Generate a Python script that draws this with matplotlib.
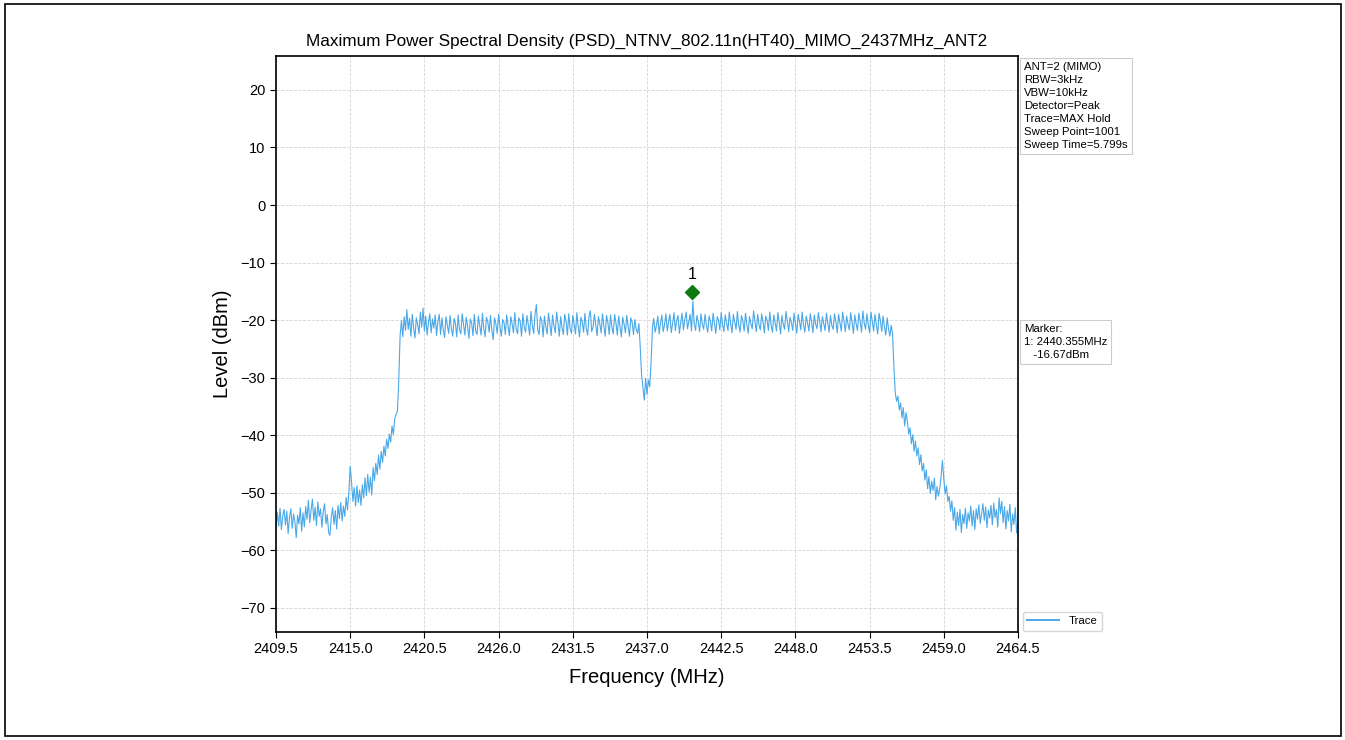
import numpy as np
import matplotlib
matplotlib.use("Agg")
import matplotlib.pyplot as plt
from matplotlib.patches import Rectangle

plt.rcParams['font.family'] = ['Liberation Sans', 'DejaVu Sans']

# trace, 0.1 MHz steps from 2409.5 to 2464.5 MHz
floor_left = [
    -56.0, -53.4, -55.8, -52.7, -56.4, -54.0, -52.9, -55.6, -53.2, -57.1,
    -54.3, -52.8, -56.2, -53.7, -55.1, -57.8, -53.9, -55.4, -52.6, -56.7,
    -53.5, -55.9, -52.4, -54.6, -51.3, -55.2, -53.0, -51.1, -54.8, -52.5,
    -55.7, -51.6, -54.1, -52.8, -56.0, -53.3, -51.9, -55.4, -53.8, -56.9,
    -57.4, -54.2, -52.6, -55.5, -53.1, -56.3, -52.2, -54.5, -51.7, -54.9,
]
rise_left = [
    -52.3, -54.1, -50.8, -53.0, -49.9, -45.4, -48.2, -51.5, -49.1, -52.3,
    -48.8, -51.7, -49.5, -52.2, -48.6, -50.9, -47.4, -50.5, -46.8, -49.9,
    -47.3, -50.4, -45.6, -47.9, -44.9, -46.8, -43.5, -45.9, -42.8, -44.7,
    -41.9, -43.6, -40.7, -42.3, -39.8, -41.2, -38.4, -39.9, -37.1, -36.4,
    -35.8, -30.5, -22.6, -20.1, -22.9, -19.4, -21.8, -18.2, -21.6, -19.7,
]
band_left = [
    -22.8, -19.0, -21.3, -23.1, -19.6, -20.7, -22.4, -18.6, -21.2, -17.9,
    -21.9, -19.3, -22.6, -20.4, -18.9, -22.2, -19.8, -21.4, -19.1, -22.7,
    -20.2, -19.0, -22.5, -19.6, -21.7, -23.0, -19.4, -20.9, -22.3, -19.2,
    -21.5, -22.8, -19.7, -20.6, -22.9, -19.1, -21.6, -22.4, -18.9, -20.8,
    -22.6, -19.5, -21.1, -23.2, -19.8, -20.5, -22.7, -19.0, -21.9, -22.5,
    -19.3, -20.9, -22.6, -18.8, -21.4, -22.9, -19.5, -20.3, -22.1, -19.2,
    -21.8, -23.4, -19.6, -20.7, -22.3, -19.0, -21.2, -22.8, -19.9, -20.4,
    -22.5, -19.1, -21.0, -22.7, -19.4, -20.6, -22.2, -18.7, -21.5, -22.4,
    -19.6, -20.2, -22.8, -18.9, -21.3, -22.1, -19.2, -20.8, -22.6, -18.5,
    -20.9, -22.3, -19.0, -17.3, -21.7, -22.5, -19.4, -20.1, -22.9, -19.3,
    -21.2, -22.4, -18.8, -20.6, -22.7, -19.1, -21.0, -22.2, -18.6, -20.5,
    -22.8, -19.4, -21.3, -22.5, -19.0, -20.2, -22.6, -18.9, -21.5, -22.3,
    -19.2, -20.7, -22.4, -18.7, -21.1, -22.9, -19.5, -20.3, -22.1, -18.8,
    -21.4, -22.6, -19.3, -18.4, -22.0, -21.2, -19.0, -20.8, -22.7, -19.4,
    -20.6, -22.2, -18.9, -21.0, -22.8, -19.2, -20.4, -22.5, -19.1, -21.3,
    -22.4, -19.0, -20.5, -22.6, -19.3, -21.1, -22.9, -19.5, -20.7, -22.2,
    -19.2, -21.0, -22.8, -19.6, -20.4, -22.5, -19.9, -21.6, -22.3, -20.6,
]
notch = [
    -24.8, -29.6, -31.8, -33.9, -30.1, -32.9, -30.4, -31.6, -27.5, -21.4,
]
band_right = [
    -19.7, -22.1, -21.0, -19.3, -22.4, -20.5, -19.1, -22.0, -20.8, -18.9,
    -21.9, -20.3, -19.0, -22.2, -20.6, -18.7, -21.8, -20.1, -19.2, -22.3,
    -20.4, -18.8, -21.7, -19.9, -18.6, -21.5, -20.2, -19.0, -21.9, -16.7,
    -20.6, -21.8, -19.2, -20.3, -22.0, -18.9, -20.7, -21.6, -19.0, -20.9,
    -22.1, -19.3, -20.2, -21.9, -18.8, -20.5, -22.3, -19.4, -20.0, -21.7,
    -18.7, -20.8, -22.0, -19.1, -20.4, -21.8, -18.6, -20.6, -22.2, -19.0,
    -20.3, -21.6, -18.5, -20.9, -22.1, -19.2, -20.1, -21.9, -18.8, -20.7,
    -22.3, -19.4, -20.6, -21.5, -18.4, -20.2, -22.0, -19.0, -20.8, -21.7,
    -18.9, -20.4, -22.2, -19.3, -20.0, -21.8, -18.6, -20.9, -22.1, -19.1,
    -20.5, -21.9, -18.7, -20.3, -22.4, -19.2, -20.7, -21.6, -18.5, -20.1,
    -22.0, -19.5, -20.4, -21.8, -18.8, -20.6, -22.3, -19.0, -20.2, -21.7,
    -18.6, -20.8, -22.1, -19.3, -20.5, -21.9, -18.9, -20.3, -22.2, -19.1,
    -20.7, -21.5, -18.7, -20.2, -22.0, -19.4, -20.6, -21.8, -18.8, -20.4,
    -22.1, -19.2, -20.9, -21.6, -18.9, -20.3, -22.2, -19.0, -20.5, -21.9,
    -18.6, -20.1, -22.0, -19.3, -20.7, -21.7, -18.7, -20.4, -22.3, -19.1,
    -20.6, -21.8, -18.8, -20.2, -22.1, -18.4, -20.5, -21.6, -18.9, -20.8,
    -22.2, -18.6, -20.3, -21.9, -19.0, -20.7, -22.4, -18.8, -20.1, -22.0,
    -19.3, -21.2, -22.6, -19.6, -21.5, -22.8, -20.9, -22.4, -28.0, -32.6,
]
fall_right = [
    -34.1, -33.2, -35.6, -34.4, -37.0, -35.2, -38.4, -36.1, -37.6, -39.8,
    -38.7, -41.5, -39.9, -42.8, -41.0, -43.6, -42.2, -45.1, -43.4, -46.2,
    -44.9, -47.8, -46.0, -49.3, -47.2, -50.1, -48.0, -49.6, -47.5, -51.2,
    -48.9, -50.6, -49.3, -47.1, -44.4, -47.6, -50.2, -48.8, -51.5, -50.6,
]
floor_right = [
    -53.2, -51.4, -54.8, -52.6, -56.5, -53.4, -55.7, -52.9, -56.9, -53.8,
    -55.4, -52.7, -56.2, -53.5, -54.9, -52.3, -55.8, -53.1, -56.4, -52.8,
    -54.6, -52.1, -55.3, -53.7, -51.9, -54.8, -52.5, -56.1, -53.0, -54.4,
    -52.2, -55.6, -51.8, -54.3, -52.9, -56.0, -50.9, -53.6, -51.5, -55.2,
    -52.4, -56.3, -53.1, -54.9, -52.0, -56.8, -53.7, -55.5, -52.6, -57.0,
    -55.2,
]

f_start, f_stop = 2409.5, 2464.5
x_ticks = [2409.5, 2415.0, 2420.5, 2426.0, 2431.5, 2437.0, 2442.5, 2448.0, 2453.5, 2459.0, 2464.5]
y_ticks = [-70, -60, -50, -40, -30, -20, -10, 0, 10, 20]

marker_freq = 2440.355
marker_level = -16.67

settings = ["ANT=2 (MIMO)", "RBW=3kHz", "VBW=10kHz", "Detector=Peak",
            "Trace=MAX Hold", "Sweep Point=1001", "Sweep Time=5.799s"]

level = np.array(floor_left + rise_left + band_left + notch + band_right + fall_right + floor_right)
freq = np.linspace(f_start, f_stop, len(level))

fig = plt.figure(figsize=(13.45, 7.40), dpi=100)
ax = fig.add_axes([276/1345, 1-632/740, 742/1345, 576/740])

ax.plot(freq, level, color='#4aa8e8', lw=0.8, label='Trace')
ax.plot(marker_freq, marker_level + 1.6, marker='D', color='#0f7a0f', ms=7, ls='none')
ax.text(marker_freq, marker_level + 3.3, '1', ha='center', va='bottom', fontsize=11.5)

ax.set_xlim(f_start, f_stop)
ax.set_ylim(-74.2, 25.9)
ax.set_xticks(x_ticks)
ax.set_xticklabels([f"{t:.1f}" for t in x_ticks])
ax.set_yticks(y_ticks)
ax.tick_params(labelsize=10.5, length=4)
ax.grid(True, color='#d4d4d4', ls='--', lw=0.6)
for s in ax.spines.values():
    s.set_linewidth(1.2)

ax.set_title("Maximum Power Spectral Density (PSD)_NTNV_802.11n(HT40)_MIMO_2437MHz_ANT2",
             fontsize=12.3, pad=7)
ax.set_xlabel("Frequency (MHz)", fontsize=14.5, labelpad=8)
ax.set_ylabel("Level (dBm)", fontsize=14.5, labelpad=6)

box = dict(boxstyle='square,pad=0.35', fc='white', ec='#cccccc', lw=0.8)
ax.text(1.008, 0.99, "\n".join(settings), transform=ax.transAxes, fontsize=8.2,
        va='top', ha='left', bbox=box, linespacing=1.38)
ax.text(1.008, 0.535, "Marker:\n1: %.3fMHz\n   %.2fdBm" % (marker_freq, marker_level),
        transform=ax.transAxes, fontsize=8.2, va='top', ha='left', bbox=box, linespacing=1.38)

leg = ax.legend(loc='lower left', bbox_to_anchor=(1.005, 0.0), borderaxespad=0.1,
                fontsize=8.2, frameon=True, fancybox=True, handlelength=2.8)
leg.get_lines()[0].set_linewidth(1.4)

fig.patches.append(Rectangle((0.004, 0.006), 0.993, 0.988, transform=fig.transFigure,
                             fill=False, ec='black', lw=1.2))

fig.savefig("out.png", dpi=100)
